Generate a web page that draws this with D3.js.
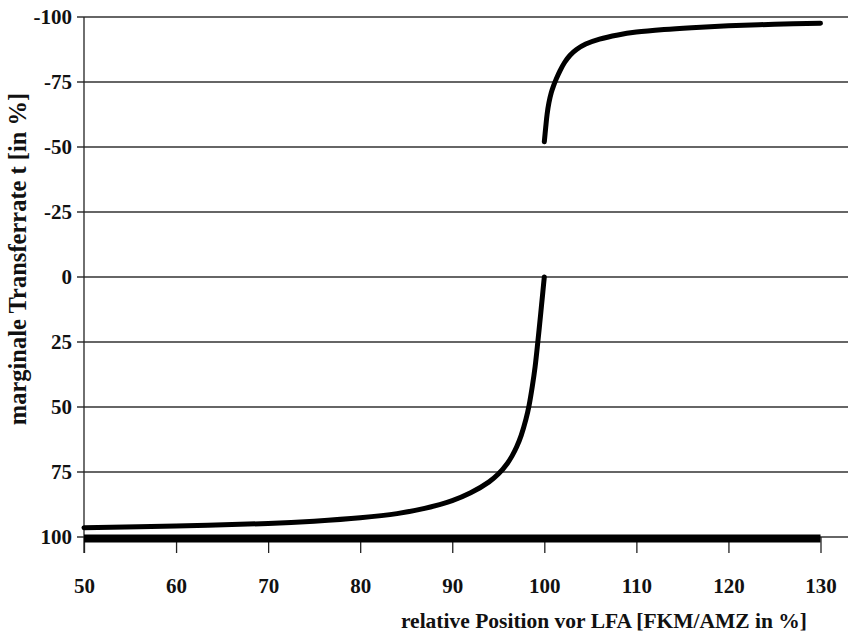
<!DOCTYPE html>
<html><head><meta charset="utf-8">
<script src="https://cdn.jsdelivr.net/npm/d3@7/dist/d3.min.js"></script>
<style>body{margin:0;background:#fff}svg{display:block}</style>
</head><body>
<svg id="c" width="849" height="634"></svg>
<script>
// Data
const xTicks = [50,60,70,80,90,100,110,120,130];
const yTicks = [-100,-75,-50,-25,0,25,50,75,100];
const lowerX = [50,60,70,75,80,84,87,90,92,94,95,96,96.5,97,97.5,98,98.34,98.7,99,99.3,99.5,99.7,99.85,100];
const lowerY = [96.4,95.8,94.8,93.9,92.6,91.0,89.0,86.0,83.0,78.8,75.8,71.6,68.8,65.3,60.8,54.8,49.5,42.0,34.5,24.8,17.9,10.8,5.4,0];
const upperX = [100,100.15,100.3,100.5,100.75,101,101.3,101.7,102.2,102.8,103.5,104.5,106,108,110,113,116,120,125,130];
const upperY = [-52,-57.5,-62.5,-67,-70.8,-73.5,-76.2,-79.3,-82.5,-85.3,-87.5,-89.6,-91.5,-93.1,-94.2,-95.2,-95.9,-96.6,-97.2,-97.6];
const baseX = [50,130];
const baseY = [100.6,100.6];

const svg = d3.select("#c");
const x = d3.scaleLinear().domain([50,130]).range([84,820.5]);
const y = d3.scaleLinear().domain([-100,100]).range([17,537]);
const font = "'Liberation Serif','Times New Roman',serif";

// gridlines
svg.append("g").selectAll("line").data(yTicks).join("line")
  .attr("x1",77).attr("x2",848)
  .attr("y1",d=>y(d)).attr("y2",d=>y(d))
  .attr("stroke","#333").attr("stroke-width",1.3);

// y axis
const yAxis = d3.axisLeft(y).tickValues(yTicks).tickSize(0).tickPadding(12).tickFormat(d=>String(d));
const gy = svg.append("g").attr("transform","translate(84,0)").call(yAxis);
gy.select(".domain").remove();
svg.append("line").attr("x1",84).attr("x2",84).attr("y1",y(-100)).attr("y2",553)
  .attr("stroke","#222").attr("stroke-width",1.3);
gy.selectAll("text").attr("font-family",font).attr("font-size",21).attr("font-weight","bold").attr("fill","#111");

// x axis
const xAxis = d3.axisBottom(x).tickValues(xTicks).tickSize(16).tickPadding(25).tickFormat(d=>String(d));
const gx = svg.append("g").attr("transform","translate(0,537)").call(xAxis);
gx.select(".domain").remove();
gx.selectAll("line").attr("stroke","#222").attr("stroke-width",1.3);
gx.selectAll("text").attr("font-family",font).attr("font-size",21).attr("font-weight","bold").attr("fill","#111");

// lines
const line = d3.line().x(d=>x(d[0])).y(d=>y(d[1])).curve(d3.curveCatmullRom.alpha(0.5));
svg.append("path").datum(baseX.map((v,i)=>[v,baseY[i]])).attr("d",d3.line().x(d=>x(d[0])).y(d=>y(d[1])))
  .attr("fill","none").attr("stroke","#000").attr("stroke-width",8);
svg.append("path").datum(lowerX.map((v,i)=>[v,lowerY[i]])).attr("d",line)
  .attr("fill","none").attr("stroke","#000").attr("stroke-width",5).attr("stroke-linecap","round");
svg.append("path").datum(upperX.map((v,i)=>[v,upperY[i]])).attr("d",line)
  .attr("fill","none").attr("stroke","#000").attr("stroke-width",5).attr("stroke-linecap","round");

// titles
svg.append("text").attr("x",604).attr("y",628).attr("text-anchor","middle")
  .attr("font-family",font).attr("font-size",21.5).attr("font-weight","bold").attr("fill","#111")
  .text("relative Position vor LFA [FKM/AMZ in %]");
svg.append("text").attr("transform","translate(26,259) rotate(-90)").attr("text-anchor","middle")
  .attr("font-family",font).attr("font-size",24.5).attr("font-weight","bold").attr("fill","#111")
  .text("marginale Transferrate t [in %]");
</script>
</body></html>
